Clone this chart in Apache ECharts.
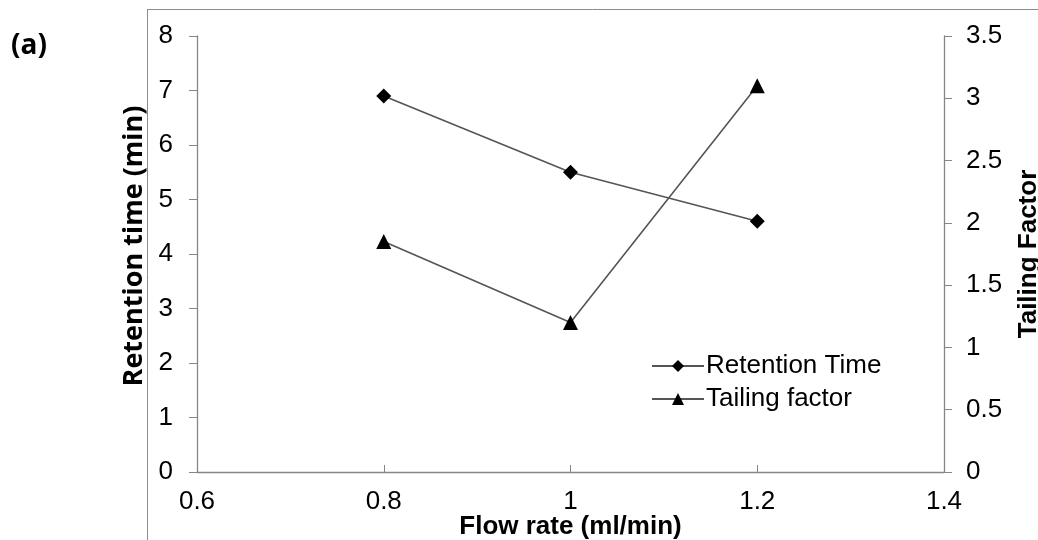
<!DOCTYPE html>
<html><head><meta charset="utf-8">
<script src="https://cdn.jsdelivr.net/npm/echarts@6/dist/echarts.min.js"></script>
<style>html,body{margin:0;padding:0;background:#fff}#c{width:1038px;height:540px}</style>
</head><body><div id="c"></div>
<script>
const flowRate = [0.8, 1.0, 1.2];
const retentionTime = [6.9, 5.5, 4.6];
const tailingFactor = [1.85, 1.2, 3.1];
const xTicks = [0.6, 0.8, 1, 1.2, 1.4];

const chart = echarts.init(document.getElementById('c'), null, {renderer: 'canvas'});
const axisGray = '#868686';
const font = 'Liberation Sans, Arial, sans-serif';
const fs = 26;
chart.setOption({
  animation: false,
  backgroundColor: '#fff',
  graphic: [
    {type: 'line', shape: {x1: 147, y1: 9.5, x2: 1038, y2: 9.5}, style: {stroke: '#8c8c8c', lineWidth: 1}},
    {type: 'line', shape: {x1: 147.5, y1: 9, x2: 147.5, y2: 540}, style: {stroke: '#8c8c8c', lineWidth: 1}},
    {type: 'text', left: 11, top: 32, style: {text: '(a)', font: 'bold 28px "Open Sans", sans-serif', fill: '#000'}}
  ],
  grid: {left: 197, right: 94, top: 36, bottom: 68, containLabel: false, outerBoundsMode: 'none'},
  legend: {
    orient: 'vertical', left: 646, top: 348, itemGap: 7, itemWidth: 52, itemHeight: 15,
    textStyle: {fontFamily: font, fontSize: fs, color: '#000', padding: [0, 0, 0, -3]},
    data: ['Retention Time', 'Tailing factor']
  },
  xAxis: {
    type: 'value', min: 0.6, max: 1.4, interval: 0.2,
    name: 'Flow rate (ml/min)', nameLocation: 'middle', nameGap: 42, nameMoveOverlap: false,
    nameTextStyle: {fontFamily: font, fontSize: fs, fontWeight: 'bold', color: '#000'},
    axisLine: {lineStyle: {color: axisGray, width: 1.3}},
    axisTick: {inside: true, length: 7, lineStyle: {color: axisGray}},
    splitLine: {show: false},
    axisLabel: {fontFamily: font, fontSize: fs, color: '#000', margin: 17,
      formatter: v => { const t = xTicks.find(x => Math.abs(x - v) < 1e-6); return t === undefined ? '' : String(t); }}
  },
  yAxis: [
    {
      type: 'value', min: 0, max: 8, interval: 1, position: 'left',
      name: 'Retention time (min)', nameLocation: 'middle', nameGap: 49,
      nameTextStyle: {fontFamily: '"Open Sans", sans-serif', fontSize: 27, fontWeight: 'bold', color: '#000', padding: [0, 0, 0, 16]},
      axisLine: {show: true, lineStyle: {color: axisGray, width: 1.3}},
      axisTick: {show: true, length: 8, lineStyle: {color: axisGray}},
      splitLine: {show: false},
      axisLabel: {fontFamily: font, fontSize: fs, color: '#000', margin: 24}
    },
    {
      type: 'value', min: 0, max: 3.5, interval: 0.5, position: 'right',
      name: 'Tailing Factor', nameLocation: 'middle', nameGap: 72, nameRotate: 90,
      nameTextStyle: {fontFamily: font, fontSize: fs, fontWeight: 'bold', color: '#000'},
      axisLine: {show: true, lineStyle: {color: axisGray, width: 1.3}},
      axisTick: {show: true, length: 8, lineStyle: {color: axisGray}},
      splitLine: {show: false},
      axisLabel: {fontFamily: font, fontSize: fs, color: '#000', margin: 22}
    }
  ],
  series: [
    {
      name: 'Retention Time', type: 'line', yAxisIndex: 0,
      data: flowRate.map((x, i) => [x, retentionTime[i]]),
      symbol: 'diamond', symbolSize: 15,
      itemStyle: {color: '#000'},
      lineStyle: {color: '#555', width: 1.6}
    },
    {
      name: 'Tailing factor', type: 'line', yAxisIndex: 1,
      data: flowRate.map((x, i) => [x, tailingFactor[i]]),
      symbol: 'triangle', symbolSize: 15,
      itemStyle: {color: '#000'},
      lineStyle: {color: '#555', width: 1.6}
    }
  ]
});
</script></body></html>
